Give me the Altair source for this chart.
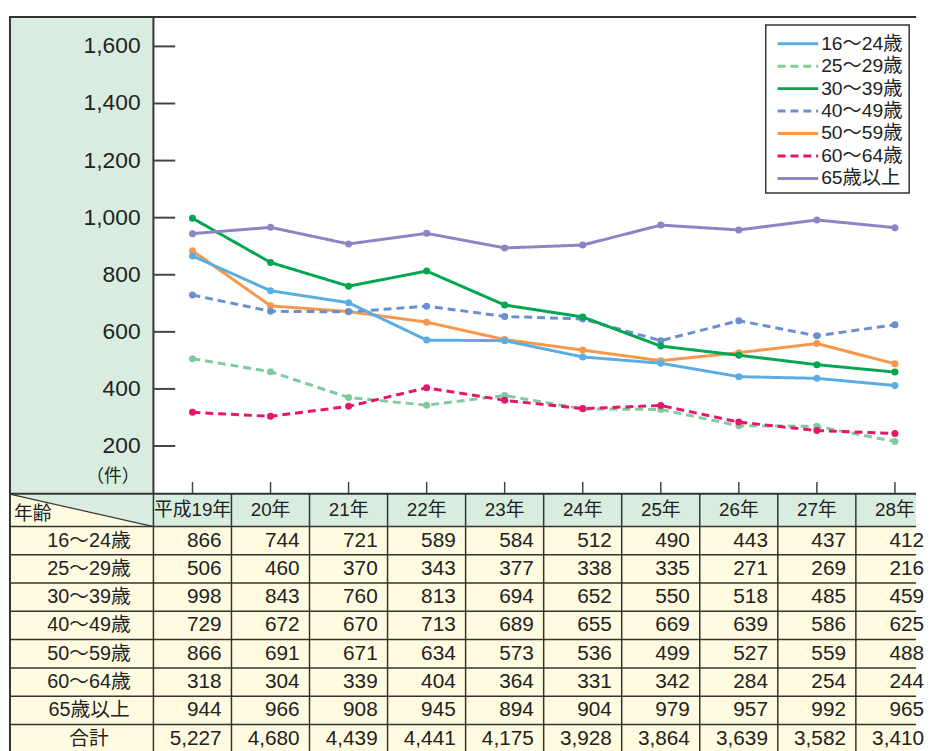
import altair as alt
import pandas as pd

# ---------------- data ----------------
years = ["平成19年", "20年", "21年", "22年", "23年", "24年", "25年", "26年", "27年", "28年"]
ages = ["16〜24歳", "25〜29歳", "30〜39歳", "40〜49歳", "50〜59歳", "60〜64歳", "65歳以上"]

# values printed in the table
t_16_24 = [866, 744, 721, 589, 584, 512, 490, 443, 437, 412]
t_25_29 = [506, 460, 370, 343, 377, 338, 335, 271, 269, 216]
t_30_39 = [998, 843, 760, 813, 694, 652, 550, 518, 485, 459]
t_40_49 = [729, 672, 670, 713, 689, 655, 669, 639, 586, 625]
t_50_59 = [866, 691, 671, 634, 573, 536, 499, 527, 559, 488]
t_60_64 = [318, 304, 339, 404, 364, 331, 342, 284, 254, 244]
t_65 = [944, 966, 908, 945, 894, 904, 979, 957, 992, 965]
totals = [5227, 4680, 4439, 4441, 4175, 3928, 3864, 3639, 3582, 3410]

# values as the lines are drawn (a few differ from the table)
p_16_24 = [866, 744, 702, 571, 569, 512, 490, 443, 437, 412]
p_25_29 = [506, 460, 370, 343, 377, 330, 328, 271, 269, 216]
p_30_39 = [998, 843, 760, 813, 694, 652, 550, 518, 485, 459]
p_40_49 = [729, 672, 670, 690, 654, 645, 569, 639, 586, 625]
p_50_59 = [884, 691, 671, 634, 573, 536, 499, 527, 559, 488]
p_60_64 = [318, 304, 339, 404, 360, 331, 342, 284, 254, 244]
p_65 = [944, 966, 908, 945, 894, 904, 974, 957, 992, 965]

y_ticks = [200, 400, 600, 800, 1000, 1200, 1400, 1600]

colors = ["#5aade0", "#7ecb9d", "#00a650", "#6b8fce", "#f7974b", "#e8156b", "#8c84c4"]
dashes = [[1, 0], [8, 5], [1, 0], [8, 5], [1, 0], [8, 5], [1, 0]]

table_rows = [t_16_24, t_25_29, t_30_39, t_40_49, t_50_59, t_60_64, t_65]
plot_rows = [p_16_24, p_25_29, p_30_39, p_40_49, p_50_59, p_60_64, p_65]

# ---------------- layout helpers ----------------
FONT = "'Liberation Sans', 'Noto Sans CJK JP', sans-serif"
GREEN = "#d8ede0"
CREAM = "#fffbe1"
DARK = "#333333"
TXT = "#222222"

COL_W = 78.9          # px per year column
PX_PER_UNIT = 57.71 / 200.0
ROW_H = 28.6

W = 917
H1 = 483
H2 = 262


def vx(px):  # page x -> x domain
    return (px - 193.5) / COL_W


def vy(py):  # page y -> value domain (top panel)
    return 200 + (445.7 - py) / PX_PER_UNIT


def ty(py):  # page y -> row units (table panel)
    return (py - 494.0) / ROW_H


X0, X1 = vx(8), vx(8 + W)
YMIN, YMAX = vy(11 + H1), vy(11)
HEADER = ty(527)
TMAX = H2 / ROW_H

xs = alt.Scale(domain=[X0, X1], nice=False, zero=False)
ys = alt.Scale(domain=[YMIN, YMAX], nice=False, zero=False)
ts = alt.Scale(domain=[0, TMAX], nice=False, zero=False, reverse=True)
color_scale = alt.Scale(domain=ages, range=colors)
dash_scale = alt.Scale(domain=ages, range=dashes)


def X(f):
    return alt.X(f, type="quantitative", scale=xs, axis=None)


def Y(f):
    return alt.Y(f, type="quantitative", scale=ys, axis=None)


def T(f):
    return alt.Y(f, type="quantitative", scale=ts, axis=None)


# ---------------- top panel ----------------
box = pd.DataFrame({"x": [X0], "x2": [vx(154)], "y": [YMIN], "y2": [YMAX]})
bg = alt.Chart(box).mark_rect(color=GREEN).encode(x=X("x"), x2="x2", y=Y("y"), y2="y2")

frame = pd.DataFrame({
    "x": [X0, vx(9), vx(154)],
    "x2": [X1, vx(9), vx(154)],
    "y": [vy(12), YMIN, YMIN],
    "y2": [vy(12), YMAX, YMAX],
})
frame_rules = alt.Chart(frame).mark_rule(color=DARK, strokeWidth=2).encode(
    x=X("x"), x2="x2", y=Y("y"), y2="y2")

ticks = pd.DataFrame({"v": y_ticks, "lab": [f"{v:,}" for v in y_ticks]})
ticks["x"] = vx(154)
ticks["x2"] = vx(176)
tick_rules = alt.Chart(ticks).mark_rule(color="#444444", strokeWidth=2).encode(
    x=X("x"), x2="x2", y=Y("v"))
tick_text = alt.Chart(ticks).mark_text(
    align="right", baseline="middle", fontSize=23, font=FONT, color=TXT, dx=-13
).encode(x=X("x"), y=Y("v"), text="lab:N")

unit = alt.Chart(pd.DataFrame({"x": [vx(154)], "v": [200], "t": ["（件）"]})).mark_text(
    align="right", baseline="middle", fontSize=18, font=FONT, color=TXT, dx=-14, dy=31
).encode(x=X("x"), y=Y("v"), text="t:N")

xt = pd.DataFrame({"i": list(range(len(years)))})
xt["y"] = YMIN
xt["y2"] = YMIN + 12 / PX_PER_UNIT
x_ticks = alt.Chart(xt).mark_rule(color="#444444", strokeWidth=1.5).encode(
    x=X("i"), y=Y("y"), y2="y2")

series_layers = []
draw_order = [4, 3, 0, 2, 6, 1, 5]
for k in draw_order:
    df = pd.DataFrame({"i": list(range(len(years))), "v": plot_rows[k], "age": ages[k]})
    ln = alt.Chart(df).mark_line(strokeWidth=3).encode(
        x=X("i"), y=Y("v"),
        color=alt.Color("age:N", scale=color_scale, legend=None),
        strokeDash=alt.StrokeDash("age:N", scale=dash_scale, legend=None))
    pt = alt.Chart(df).mark_circle(size=50, opacity=1).encode(
        x=X("i"), y=Y("v"),
        color=alt.Color("age:N", scale=color_scale, legend=None))
    series_layers += [ln, pt]

# legend (drawn with the same colour / dash scales)
leg_box = pd.DataFrame({"x": [vx(773)], "x2": [vx(918)], "y": [vy(20)], "y2": [vy(190)]})
legend_box = alt.Chart(leg_box).mark_rect(fill="white", stroke=DARK, strokeWidth=1.5).encode(
    x=X("x"), x2="x2", y=Y("y"), y2="y2")
leg = pd.DataFrame({"age": ages})
leg["y"] = [vy(39 + 22.7 * k) for k in range(len(ages))]
leg["x"] = vx(785)
leg["x2"] = vx(826)
leg["tx"] = vx(829)
legend_lines = alt.Chart(leg).mark_rule(strokeWidth=3).encode(
    x=X("x"), x2="x2", y=Y("y"),
    color=alt.Color("age:N", scale=color_scale, legend=None),
    strokeDash=alt.StrokeDash("age:N", scale=dash_scale, legend=None))
legend_text = alt.Chart(leg).mark_text(
    align="left", baseline="middle", fontSize=19.5, font=FONT, color=TXT
).encode(x=X("tx"), y=Y("y"), text="age:N")

top = alt.layer(
    bg, frame_rules, tick_rules, tick_text, unit, x_ticks, *series_layers,
    legend_box, legend_lines, legend_text
).properties(width=W, height=H1)

# ---------------- table panel ----------------
row_names = ages + ["合計"]
row_values = table_rows + [totals]

cream = alt.Chart(pd.DataFrame({"x": [X0], "x2": [X1], "y": [0], "y2": [TMAX]})).mark_rect(
    color=CREAM).encode(x=X("x"), x2="x2", y=T("y"), y2="y2")
head_bg = alt.Chart(pd.DataFrame({"x": [vx(154)], "x2": [X1], "y": [0], "y2": [HEADER]})).mark_rect(
    color=GREEN).encode(x=X("x"), x2="x2", y=T("y"), y2="y2")
tri = alt.Chart(pd.DataFrame({"x": [X0, vx(154)], "y": [0, 0], "y2": [0, HEADER]})).mark_area(
    color=GREEN, orient="vertical").encode(x=X("x"), y=T("y"), y2="y2")

vlines = pd.DataFrame({"x": [vx(154) + k for k in range(len(years))]})
vlines["y"] = 0
vlines["y2"] = TMAX
v_rules = alt.Chart(vlines).mark_rule(color=DARK, strokeWidth=1.5).encode(
    x=X("x"), y=T("y"), y2="y2")
hlines = pd.DataFrame({"y": [HEADER + k for k in range(len(row_names))]})
hlines["x"] = X0
hlines["x2"] = X1
h_rules = alt.Chart(hlines).mark_rule(color=DARK, strokeWidth=1.5).encode(
    x=X("x"), x2="x2", y=T("y"))
outer = pd.DataFrame({"x": [X0, vx(9)], "x2": [X1, vx(9)], "y": [0, 0], "y2": [0, TMAX]})
outer_rules = alt.Chart(outer).mark_rule(color=DARK, strokeWidth=2).encode(
    x=X("x"), x2="x2", y=T("y"), y2="y2")
diag = alt.Chart(pd.DataFrame({"x": [vx(10)], "x2": [vx(153)], "y": [0.02], "y2": [HEADER]})).mark_rule(
    color=DARK, strokeWidth=1.2).encode(x=X("x"), x2="x2", y=T("y"), y2="y2")

hdr = pd.DataFrame({"i": list(range(len(years))), "t": years})
hdr["y"] = HEADER / 2
hdr_text = alt.Chart(hdr).mark_text(
    align="center", baseline="middle", fontSize=19, font=FONT, color=TXT
).encode(x=X("i"), y=T("y"), text="t:N")
age_head = alt.Chart(pd.DataFrame({"x": [X0], "y": [ty(514)], "t": ["年齢"]})).mark_text(
    align="left", baseline="middle", fontSize=19, font=FONT, color=TXT, dx=5
).encode(x=X("x"), y=T("y"), text="t:N")

rl = pd.DataFrame({"t": row_names})
rl["y"] = [HEADER + k + 0.5 for k in range(len(row_names))]
rl["x"] = vx(89)
row_text = alt.Chart(rl).mark_text(
    align="center", baseline="middle", fontSize=20, font=FONT, color=TXT
).encode(x=X("x"), y=T("y"), text="t:N")

cells = []
for r, vals in enumerate(row_values):
    for j, v in enumerate(vals):
        cells.append({"x": j + 0.5, "y": HEADER + r + 0.5, "v": v})
cells = pd.DataFrame(cells)
cell_text = alt.Chart(cells).mark_text(
    align="right", baseline="middle", fontSize=21, font=FONT, color=TXT, dx=-10
).encode(x=X("x"), y=T("y"), text=alt.Text("v:Q", format=","))

table = alt.layer(
    cream, head_bg, tri, v_rules, h_rules, diag, outer_rules,
    hdr_text, age_head, row_text, cell_text
).properties(width=W, height=H2)

chart = alt.vconcat(top, table, spacing=0, bounds="flush").properties(
    padding={"left": 0, "top": 3, "right": 0, "bottom": 0}
).configure_view(stroke=None)

chart.save("out.html", embed_options={"renderer": "svg", "actions": False})
